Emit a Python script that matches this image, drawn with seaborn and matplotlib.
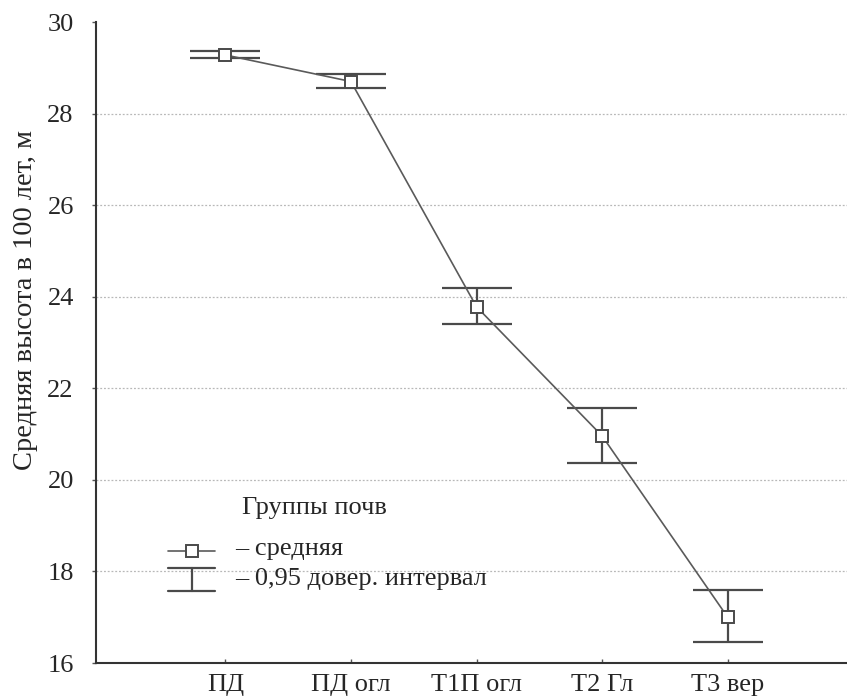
import matplotlib
matplotlib.use("Agg")
import matplotlib.pyplot as plt
from matplotlib.lines import Line2D
import seaborn as sns
import numpy as np
import pandas as pd

groups = ["ПД", "ПД огл", "Т1П огл", "Т2 Гл", "Т3 вер"]
means = [29.28, 28.70, 23.78, 20.96, 17.00]
ci_low = [29.22, 28.56, 23.40, 20.36, 16.45]
ci_high = [29.36, 28.86, 24.18, 21.56, 17.60]
yticks = [16, 18, 20, 22, 24, 26, 28, 30]

sns.set_theme(style="white")
plt.rcParams["font.family"] = ["Liberation Serif", "DejaVu Serif"]

df = pd.DataFrame({"group": groups, "mean": means, "lo": ci_low, "hi": ci_high})

W, H = 847, 697
AX_L, AX_R, AX_T, AX_B = 96, 847, 22, 663

fig = plt.figure(figsize=(W / 100, H / 100), dpi=100)
ax = fig.add_axes([AX_L / W, (H - AX_B) / H, (AX_R - AX_L) / W, (AX_B - AX_T) / H])

line_col = "#5a5a5a"
bar_col = "#4a4a4a"

# 0.95 confidence intervals
x = np.arange(len(df))
yerr = np.vstack([df["mean"] - df["lo"], df["hi"] - df["mean"]])
ax.errorbar(x, df["mean"], yerr=yerr, fmt="none", ecolor=bar_col,
            elinewidth=1.6, capsize=25.5, capthick=1.6, zorder=3)

# group means joined by a line
sns.pointplot(data=df, x="group", y="mean", errorbar=None, color=line_col,
              marker="s", markersize=8, markerfacecolor="white",
              markeredgecolor=bar_col, markeredgewidth=1.4, linewidth=1.2,
              ax=ax)
for ln in ax.lines:
    ln.set_zorder(4)

ax.set_xlim(-1.03, 4.95)
ax.set_ylim(16, 30)
ax.set_yticks(yticks)
ax.set_xticks(x)
ax.set_xticklabels(groups)
ax.set_xlabel("")
ax.set_ylabel("Средняя высота в 100 лет, м", fontsize=20.5)
ax.yaxis.set_label_coords(-0.077, (AX_B - 300) / (AX_B - AX_T))

for t in [18, 20, 22, 24, 26, 28]:
    ax.axhline(t, color="#b8b8b8", lw=0.9, ls=(0, (1.5, 1.5)), zorder=1)

for side in ["top", "right"]:
    ax.spines[side].set_visible(False)
for side in ["left", "bottom"]:
    ax.spines[side].set_color("#333333")
    ax.spines[side].set_linewidth(1.5)

ax.tick_params(axis="y", direction="out", length=3, width=1, color="#555555",
               labelsize=19, pad=13, left=True)
ax.tick_params(axis="x", direction="in", length=3, width=1, color="#555555",
               labelsize=19, pad=8, bottom=True)

# legend drawn in axes fraction coordinates
tr = ax.transAxes
def ax_xy(px, py):
    return ((px - AX_L) / (AX_R - AX_L), (AX_B - py) / (AX_B - AX_T))

ax.text(*ax_xy(242, 508), "Группы почв", transform=tr, fontsize=19,
        va="center", ha="left")
x0, _ = ax_xy(168, 0)
x1, _ = ax_xy(215, 0)
xm, _ = ax_xy(192, 0)
_, ym = ax_xy(0, 551)
ax.add_line(Line2D([x0, x1], [ym, ym], transform=tr, color=line_col, lw=1.2))
ax.add_line(Line2D([xm], [ym], transform=tr, marker="s", markersize=8,
                   markerfacecolor="white", markeredgecolor=bar_col,
                   markeredgewidth=1.4, ls="none"))
ax.text(*ax_xy(235, 549), "– средняя", transform=tr, fontsize=19,
        va="center", ha="left")
_, yt = ax_xy(0, 568)
_, yb = ax_xy(0, 591)
ax.add_line(Line2D([x0, x1], [yt, yt], transform=tr, color=bar_col, lw=1.6))
ax.add_line(Line2D([x0, x1], [yb, yb], transform=tr, color=bar_col, lw=1.6))
ax.add_line(Line2D([xm, xm], [yt, yb], transform=tr, color=bar_col, lw=1.6))
ax.text(*ax_xy(235, 579), "– 0,95 довер. интервал", transform=tr,
        fontsize=19, va="center", ha="left")

fig.savefig("out.png", dpi=100, facecolor="white")
